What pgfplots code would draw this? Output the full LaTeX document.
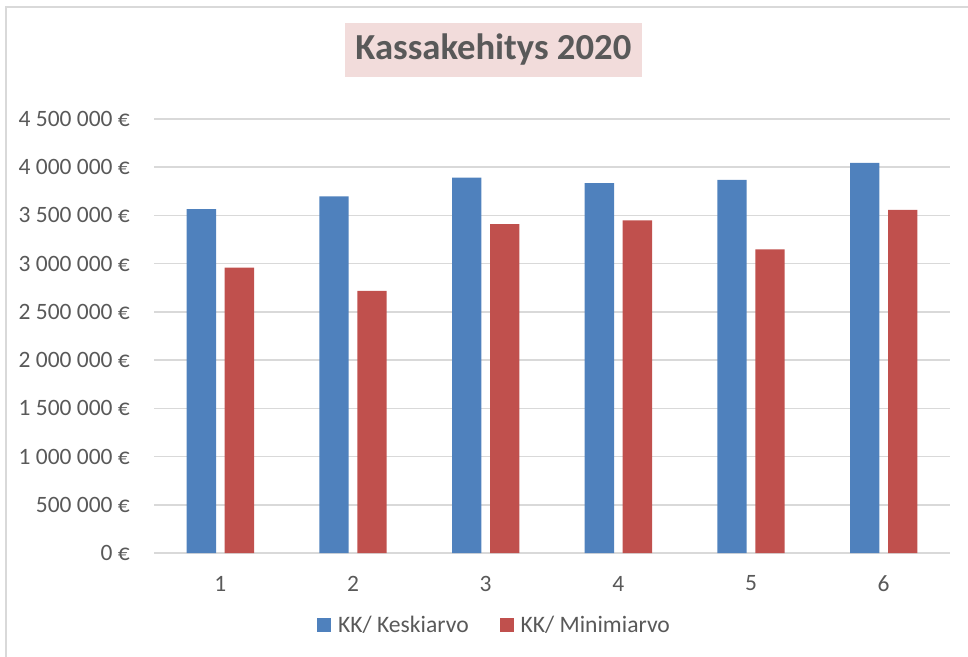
\documentclass[border=0pt]{standalone}
\usepackage{fontspec}
\setmainfont{Carlito}
\usepackage{pgfplots}
\pgfplotsset{compat=1.18}

\definecolor{kkblue}{HTML}{4F81BD}
\definecolor{kkred}{HTML}{C0504D}
\definecolor{gridgray}{HTML}{D9D9D9}
\definecolor{txtgray}{HTML}{595959}
\definecolor{titlebg}{HTML}{F2DCDB}

\pgfplotsset{sq legend/.style={legend image code/.code={%
  \fill[##1] (0pt,-5.25pt) rectangle (10.5pt,5.25pt);
  \path (13.5pt,0pt);}}}

\begin{document}
\begin{tikzpicture}
\path[use as bounding box] (0,0) rectangle (726pt,492.75pt);
% chart frame (top and left only show)
\draw[gridgray,line width=1.2pt] (4.5pt,0) -- (4.5pt,487.5pt) -- (726pt,487.5pt);
% title with its shaded box
\node[fill=titlebg, minimum width=222.75pt, minimum height=40.5pt, inner sep=0pt,
      text=txtgray, font=\fontsize{27.5}{33}\selectfont\bfseries]
  at (370pt,455.25pt) {Kassakehitys 2020};
\begin{axis}[
  at={(115.5pt,78pt)}, anchor=south west,
  scale only axis, width=597pt, height=325.5pt,
  ybar=6.5pt, bar width=22pt,
  xmin=0.5, xmax=6.5, ymin=0, ymax=4500000,
  xtick={1,...,6}, xticklabels={1,2,3,4,5,6},
  ytick={0,500000,...,4500000},
  yticklabels={0 €,500 000 €,1 000 000 €,1 500 000 €,2 000 000 €,2 500 000 €,3 000 000 €,3 500 000 €,4 000 000 €,4 500 000 €},
  scaled y ticks=false,
  axis line style={draw=none},
  tick style={draw=none}, major tick length=0pt,
  ymajorgrids, grid style={gridgray, line width=1.1pt},
  ticklabel style={font=\fontsize{17.6}{21}\selectfont, text=txtgray},
  xticklabel style={anchor=north, inner sep=0pt, yshift=-17pt},
  yticklabel style={anchor=east, inner sep=0pt, xshift=-18pt},
  legend columns=2,
  legend style={at={(0.5,0)}, anchor=center, xshift=-42.75pt, yshift=-54pt,
    draw=none, fill=none, font=\fontsize{17.7}{21}\selectfont, text=txtgray,
    /tikz/every even column/.append style={column sep=21.5pt}},
]
\addplot[fill=kkblue, draw=none, sq legend]
  coordinates {(1,3566000) (2,3697000) (3,3893000) (4,3835000) (5,3870000) (6,4046000)};
\addplot[fill=kkred, draw=none, sq legend]
  coordinates {(1,2958000) (2,2717000) (3,3411000) (4,3448000) (5,3148000) (6,3559000)};
\legend{KK/ Keskiarvo, KK/ Minimiarvo}
\end{axis}
\end{tikzpicture}
\end{document}
